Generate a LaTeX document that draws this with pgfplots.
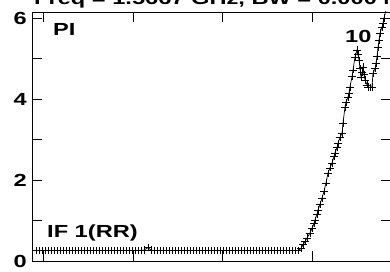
\documentclass[border=0pt]{standalone}
\usepackage{pgfplots}
\pgfplotsset{compat=1.18}
\usepackage{fontspec}
\setmainfont{Liberation Sans}[FakeStretch=1.35]
\newcommand{\cf}{\bfseries\fontsize{17.5}{20}\selectfont}
\begin{document}
\begin{tikzpicture}[x=1pt,y=1pt]
\begin{axis}[
  at={(32pt,10pt)}, anchor=south west,
  width=359pt, height=249pt, scale only axis,
  xmin=32, xmax=391, ymin=0, ymax=6.15,
  xtick={43,133,222,312}, xticklabels={},
  ytick={0,1,2,3,4,5,6}, yticklabels={0,,2,,4,,6},
  tick align=inside, major tick length=10pt,
  tick style={line width=0.7pt, black},
  axis line style={line width=0.8pt},
  /pgf/number format/assume math mode=true,
  yticklabel style={font=\cf, inner sep=1pt, xshift=-4pt},
]
\addplot[black, line width=0.7pt, mark=+, mark size=3.6pt, mark options={line width=0.7pt}] coordinates {
(36,0.26)(39,0.26)(42,0.26)(45,0.26)(48,0.26)(51,0.26)(54,0.26)(57,0.26)(60,0.26)(63,0.26)
(66,0.26)(69,0.26)(72,0.26)(75,0.26)(78,0.26)(81,0.26)(84,0.26)(87,0.26)(90,0.26)(93,0.26)
(96,0.26)(99,0.26)(102,0.26)(105,0.26)(108,0.26)(111,0.26)(114,0.26)(117,0.26)(120,0.26)(123,0.26)
(126,0.26)(129,0.26)(132,0.26)(135,0.26)(138,0.26)(141,0.26)(144,0.27)(148,0.33)(151,0.27)(154,0.26)
(157,0.26)(160,0.26)(163,0.26)(166,0.26)(169,0.26)(172,0.26)(175,0.26)(178,0.26)(181,0.26)(184,0.26)
(187,0.26)(190,0.26)(193,0.26)(196,0.26)(199,0.26)(202,0.26)(205,0.26)(208,0.26)(211,0.26)(214,0.26)
(217,0.26)(220,0.26)(223,0.26)(226,0.26)(229,0.26)(232,0.26)(235,0.26)(238,0.26)(241,0.26)(244,0.26)
(247,0.26)(250,0.26)(253,0.26)(256,0.26)(259,0.26)(262,0.26)(265,0.26)(268,0.26)(271,0.26)(274,0.26)
(277,0.26)(280,0.26)(283,0.26)(286,0.26)(289,0.26)(292,0.26)(295,0.26)(298,0.26)
(301,0.31)(303,0.40)(305,0.48)(307,0.57)(310,0.69)(312,0.80)(314,0.93)(315,1.01)(317,1.15)(318,1.26)
(320,1.40)(322,1.55)(324,1.72)(326,1.93)(328,2.17)(330,2.30)(332,2.42)(334,2.58)(335,2.67)(337,2.80)
(338,2.91)(340,3.05)(342,3.16)(343,3.41)(345,3.80)(346,3.92)(348,4.05)(349,4.15)(350,4.30)(352,4.55)
(353,4.72)(355,5.04)(357,5.21)(358,5.10)(359,4.96)(360,4.75)(361,4.54)(362,4.65)(363,4.79)(364,4.60)
(365,4.47)(367,4.35)(368,4.30)(370,4.28)(372,4.30)(373,4.64)(375,4.75)(376,4.89)(377,5.05)(378,5.28)
(379,5.45)(380,5.63)(382,5.78)(383,5.88)(384,6.00)(386,6.20)
};
\end{axis}
\node[anchor=base west, inner sep=0pt, font=\cf] at (34pt,266pt) {Freq = 1.5667 GHz, BW = 0.000 MHz};
\node[anchor=base west, inner sep=0pt, font=\cf] at (53pt,236pt) {PI};
\node[anchor=base west, inner sep=0pt, font=\cf] at (345pt,229pt) {10};
\node[anchor=base west, inner sep=0pt, font=\cf] at (47pt,34pt) {IF 1(RR)};
\pgfresetboundingbox
\path[use as bounding box] (0,0) rectangle (390pt,271pt);
\end{tikzpicture}
\end{document}
